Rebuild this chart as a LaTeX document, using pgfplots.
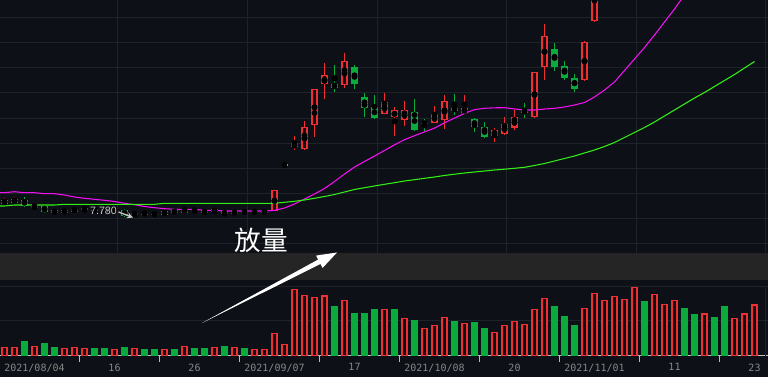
\documentclass[border=0pt]{standalone}
\usepackage{pgfplots}
\pgfplotsset{compat=1.18}
\usepackage{pgfplotstable}
\usepackage{fontspec}
\newfontfamily\cjk{Noto Sans CJK SC}
\newfontfamily\datefont{DejaVu Sans Mono}
\newfontfamily\lsans{Liberation Sans}
\definecolor{bg}{RGB}{13,17,23}
\definecolor{gridc}{RGB}{30,35,42}
\definecolor{band}{RGB}{37,37,37}
\definecolor{cred}{RGB}{240,48,48}
\definecolor{cgrn}{RGB}{10,170,60}
\definecolor{cmag}{RGB}{245,15,245}
\definecolor{clime}{RGB}{50,240,20}
\definecolor{labc}{RGB}{135,135,135}
\definecolor{axc}{RGB}{190,190,190}
\definecolor{labw}{RGB}{200,200,200}

% candles: values are chart rows (larger = lower price)
\pgfplotstableread{
i hi lo bt bb
0 198 205 200 204
1 197.3 204 198.7 202.7
3 203.3 209 205.7 208.3
6 209.5 213.5 210 213
7 208.5 212 208.7 211.7
11 208.3 212.3 209.7 211
13 212.3 217.7 213 215
14 211.7 214.7 213 214
16 211.3 214.7 211.3 214.7
18 207 212.7 209.7 212.7
21 207.7 213.3 209.3 212
23 210 215 211.3 214
25 210.7 213.7 211.3 212.7
26 210 213.3 211 212.3
27 190.3 211.3 190.3 211.3
29 136 150 143.3 147.3
30 121 150 127.3 149.3
31 89.3 136.7 89.3 125.3
32 63 98.7 75.3 84.3
34 53 87.7 61.3 85.3
38 93 114.3 102.3 114.3
39 107 135.7 110.3 117.3
40 101 125.7 110.3 120.3
43 106 123.3 114 122.7
44 95 128.7 101.3 119.7
46 95 114 108.3 112.7
49 128 142 130 135.7
50 117 135 124.3 133.7
51 110 129.7 117.3 127.5
53 72 117.7 72 116.7
54 24 79.7 36 67.3
58 41 80.7 42.3 80.3
59 -40 21.7 -20 20.7
}\redC

\pgfplotstableread{
i hi lo bt bb
2 197 207 200 205.7
4 205.7 213.3 205.7 211.7
5 209.5 214.3 210 213.3
8 208.3 211.7 208.3 209.3
9 207 211.7 209.3 210.3
10 208.5 212 209 211.7
12 209 216.7 210 215.7
15 212.3 215.7 213.5 214.5
17 210 213.5 210 213
19 209 212 209.3 211
20 210 214 210.3 213
22 211 216.7 211.3 214
24 210.5 213.7 211.3 212.7
33 65 91.7 84 87.7
35 65 88.7 67 83.7
36 93 116.7 97 107.7
37 95 118.7 107 117.7
41 99 131 112 130
42 119 131.7 122.8 123.8
45 94 115 108 110.7
47 118 131.7 119 127
48 122 138 127 137
52 103.3 117.7 110.3 112.8
55 43 70.7 49.3 66.7
56 61 80 66 77.7
57 74 91.7 78 88.7
}\greenC

\begin{document}
\begin{tikzpicture}
\fill[bg] (0pt,0pt) rectangle (576pt,-282.75pt);
\begin{scope}[x=0.75pt,y=-0.75pt]
\fill[band] (0,253) rectangle (768,280);
\end{scope}

\begin{axis}[
  at={(0pt,0pt)}, anchor=north west,
  scale only axis, width=576pt, height=189.75pt,
  xmin=-0.45, xmax=76.35, ymin=0, ymax=253, y dir=reverse,
  axis line style={draw=none}, tick style={draw=none},
  xtick={11.25,24.25,37.25,50.15,63.15,76.1}, ytick={18,43,...,243},
  xticklabels={}, yticklabels={},
  grid=major, major grid style={draw=gridc, line width=0.75pt},
]
% red candles
\addplot[only marks, mark=none, forget plot,
  error bars/.cd, y dir=both, y explicit, error mark=none,
  error bar style={draw=cred, line width=0.8pt}]
  table[x=i, y expr={(\thisrow{hi}+\thisrow{lo})/2}, y error expr={(\thisrow{lo}-\thisrow{hi})/2}] {\redC};
\addplot[only marks, mark=none, forget plot,
  error bars/.cd, y dir=both, y explicit, error mark=none,
  error bar style={draw=cred, line width=4.6pt}]
  table[x=i, y expr={(\thisrow{bt}+\thisrow{bb})/2}, y error expr={max((\thisrow{bb}-\thisrow{bt})/2,0.5)}] {\redC};
\addplot[only marks, mark=none, forget plot,
  error bars/.cd, y dir=both, y explicit, error mark=none,
  error bar style={draw=bg, line width=2.8pt}]
  table[x=i, y expr={(\thisrow{bt}+\thisrow{bb})/2}, y error expr={max((\thisrow{bb}-\thisrow{bt})/2-1.1,0)}] {\redC};
% green candles
\addplot[only marks, mark=none, forget plot,
  error bars/.cd, y dir=both, y explicit, error mark=none,
  error bar style={draw=cgrn, line width=0.8pt}]
  table[x=i, y expr={(\thisrow{hi}+\thisrow{lo})/2}, y error expr={(\thisrow{lo}-\thisrow{hi})/2}] {\greenC};
\addplot[only marks, mark=none, forget plot,
  error bars/.cd, y dir=both, y explicit, error mark=none,
  error bar style={draw=cgrn, line width=4.6pt}]
  table[x=i, y expr={(\thisrow{bt}+\thisrow{bb})/2}, y error expr={max((\thisrow{bb}-\thisrow{bt})/2,0.5)}] {\greenC};
% one-price day
\addplot[only marks, mark=none, forget plot,
  error bars/.cd, y dir=both, y explicit, error mark=none,
  error bar style={draw=labw, line width=4.5pt}]
  coordinates {(28,165) +- (0,0.75)};
% moving averages
\addplot[cmag, line width=0.8pt, mark=none] coordinates {
(-0.45,192.7) (0,192.7) (1,191.7) (2,192.7) (3,192.7) (4,193.7) (5,193.7) (6,195) (7,197) (8,198.3) (9,199.3)
(10,200.3) (11,201.5) (12,203.3) (13,204.7) (14,206.5) (15,207.7) (16,208.7) (17,209.3) (18,209.3) (19,209.3)
(20,210.3) (21,210.3) (22,211) (23,211) (24,211) (25,211) (26,211) (27,210.3) (28,208) (29,204)
(30,199) (31,194) (32,188.5) (33,181.5) (34,174) (35,167) (36,161.5) (37,156) (38,150.5) (39,144.8)
(40,139.7) (41,135.7) (42,131.9) (43,128.1) (44,122.8) (45,118.1) (46,113.4) (47,109.6) (48,108.3) (49,107.8)
(50,107.7) (51,109) (52,110) (53,110) (54,109) (55,108.3) (56,107) (57,105) (58,102.5) (59,97)
(60,90) (61,82) (62,70.5) (63,59) (64,47.5) (65,35) (66,22) (67,9) (68,-5) (69,-20)};
\addplot[clime, line width=0.8pt, mark=none] coordinates {
(-0.45,206) (0,206) (1,205) (2,205) (3,205) (4,205) (5,205) (6,204.3) (7,204.3) (8,204.3) (9,204.3)
(10,204.3) (11,204.3) (12,204.3) (13,204.3) (14,204.3) (15,204.3) (16,203.3) (17,203.3) (18,203.3) (19,203.3)
(20,203.3) (21,203.3) (22,203.3) (23,203.3) (24,203.3) (25,203.3) (26,203.3) (27,203.3) (28,202.3) (29,201.3)
(30,200) (31,198.3) (32,196.5) (33,194.5) (34,192) (35,189.5) (36,187.7) (37,186) (38,184.3) (39,182.7)
(40,181) (41,179.7) (42,178.3) (43,177) (44,175.5) (45,174.2) (46,173) (47,172) (48,171) (49,170)
(50,169.2) (51,168.3) (52,167.3) (53,165.5) (54,163.5) (55,161) (56,158.5) (57,156) (58,153) (59,150)
(60,146.5) (61,142.5) (62,137.5) (63,132.5) (64,127.5) (65,122) (66,116) (67,110) (68,104) (69,98)
(70,92.5) (71,86.5) (72,80.5) (73,74.5) (74,68) (75,61.5)};
\end{axis}

\begin{axis}[
  at={(0pt,-210pt)}, anchor=north west,
  scale only axis, width=576pt, height=57pt,
  xmin=-0.45, xmax=76.35, ymin=0, ymax=76,
  axis x line*=bottom, axis y line*=left,
  x axis line style={draw=axc, line width=0.75pt, -},
  y axis line style={draw=none},
  ytick={35.3,69}, yticklabels={}, ytick style={draw=none},
  ymajorgrids, major grid style={draw=gridc, line width=0.75pt},
  xtick={3,11,...,75},
  xticklabels={2021/08/04,16,26,2021/09/07,17,2021/10/08,20,2021/11/01,11,23},
  xticklabel style={font=\datefont\fontsize{7.5pt}{9pt}\selectfont, text=labc, inner sep=0pt, yshift=-5.5pt},
  xtick style={draw=none},
  extra x ticks={7.5,15.5,...,71.5},
  extra x tick labels={},
  extra x tick style={major tick length=4.5pt, tick align=outside,
     xtick style={draw=axc, line width=0.75pt}},
]
\addplot[ybar, bar width=3.75pt, bar shift=0pt, draw=cred, fill=bg, line width=0.8pt] coordinates {
(0,8.7) (1,8.7) (3,9.7) (6,7.7) (7,8.7) (8,7.7) (11,6.7) (13,7.7) (16,6.7) (18,9.7) (21,8.3) (23,8.3)
(25,6.7) (26,6.7) (27,22.7) (28,11.7) (29,66.7) (30,60.7) (31,58.7) (32,60) (34,55.3) (38,46.7) (40,37.7)
(42,27.7) (43,30.7) (44,38.7) (46,32.7) (49,23.7) (50,30.7) (51,34.7) (52,31.7) (53,46.7) (54,57.7)
(58,47.7) (59,62.7) (60,55.7) (61,59.7) (62,56.7) (63,68.7) (65,61.7) (66,51.7) (67,55.7) (70,42)
(73,37.7) (74,42) (75,51)};
\addplot[ybar, bar width=3.75pt, bar shift=0pt, draw=cgrn, fill=cgrn, line width=0.8pt] coordinates {
(2,14) (4,12) (5,8) (9,7) (10,7) (12,8) (14,6) (15,6) (17,6) (19,7) (20,7) (22,9) (24,7) (33,49)
(35,42) (36,42) (37,46) (39,46) (41,35) (45,34) (47,33) (48,27) (55,49) (56,39) (57,30) (64,54)
(68,47) (69,41) (71,38) (72,49)};
\end{axis}

\begin{scope}[x=0.75pt,y=-0.75pt]
\draw[gridc, line width=0.75pt] (765.5,287) -- (765.5,356);
\node[text=labw, font=\lsans\fontsize{8pt}{9pt}\selectfont, inner sep=0pt] at (103.5,211) {7.780};
\draw[labw, line width=1pt, -stealth] (118.5,212) -- (133,217.5);
\node[anchor=base, text=white, font=\cjk\fontsize{20pt}{22pt}\selectfont, inner sep=0pt] at (261,251) {放量};
\fill[white] (202,323) -- (318.1,259.6) -- (316.1,255.6) -- (337,252.5) -- (322.5,268) -- (320.5,264) -- cycle;
\end{scope}
\pgfresetboundingbox
\useasboundingbox (0pt,0pt) rectangle (576pt,-282.75pt);
\end{tikzpicture}
\end{document}
